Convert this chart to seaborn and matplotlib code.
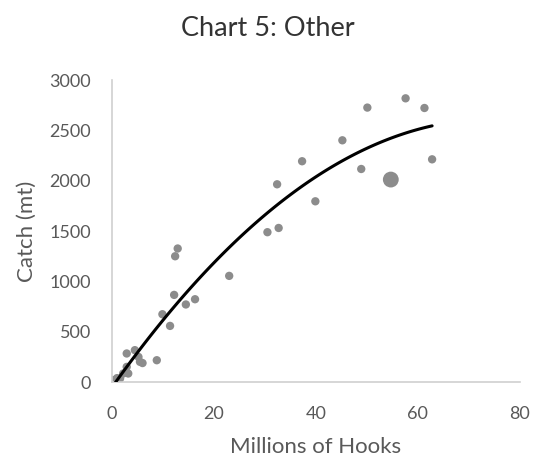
import numpy as np
import pandas as pd
import matplotlib
matplotlib.use("Agg")
import matplotlib.pyplot as plt
import seaborn as sns

# millions of hooks vs catch (mt)
hooks = [0.3, 0.6, 1.0, 1.6, 2.2, 3.2, 2.9, 2.9, 4.5, 5.2, 5.5, 6.0, 8.8,
         9.9, 11.4, 12.2, 14.5, 16.3, 12.4, 12.9, 23.0,
         30.5, 32.7, 32.4, 37.3, 39.9, 45.2, 48.9, 50.1, 57.6, 61.3, 62.8, 54.7]
catch = [20, 8, 40, 37, 86, 86, 152, 285, 318, 251, 202, 190, 218,
         675, 559, 867, 772, 824, 1251, 1328, 1056,
         1490, 1532, 1966, 2195, 1797, 2403, 2118, 2728, 2820, 2724, 2214, 2013]
sizes = [36] * 32 + [130]

df = pd.DataFrame({"hooks": hooks, "catch": catch, "size": sizes})

sns.set_style("white")
plt.rcParams["font.family"] = ["Lato", "DejaVu Sans"]

fig = plt.figure(figsize=(5.46, 4.61), dpi=100)
ax = fig.add_axes([0.205, 0.171, 0.747, 0.655])

ax.scatter(df["hooks"], df["catch"], s=df["size"], color="#8c8c8c",
           edgecolor="none", zorder=2)
# poly trendline, order 2
sns.regplot(data=df, x="hooks", y="catch", order=2, ci=None, scatter=False,
            truncate=True, line_kws={"color": "black", "lw": 2.2, "zorder": 3},
            ax=ax)

ax.set_xlim(0, 80)
ax.set_ylim(0, 3000)
ax.set_xticks([0, 20, 40, 60, 80])
ax.set_yticks(range(0, 3001, 500))
ax.tick_params(length=0, labelsize=13, labelcolor="#595959")
ax.tick_params(axis="x", pad=17)
ax.tick_params(axis="y", pad=15)
for s in ["top", "right"]:
    ax.spines[s].set_visible(False)
for s in ["left", "bottom"]:
    ax.spines[s].set_color("#d0d0d0")
    ax.spines[s].set_linewidth(1.2)

ax.set_xlabel("Millions of Hooks", fontsize=16, color="#595959", labelpad=11)
ax.set_ylabel("Catch (mt)", fontsize=16, color="#595959", labelpad=9)
fig.suptitle("Chart 5: Other", x=0.49, y=0.965, fontsize=19.5, color="#333333")

fig.savefig("out.png", dpi=100)
